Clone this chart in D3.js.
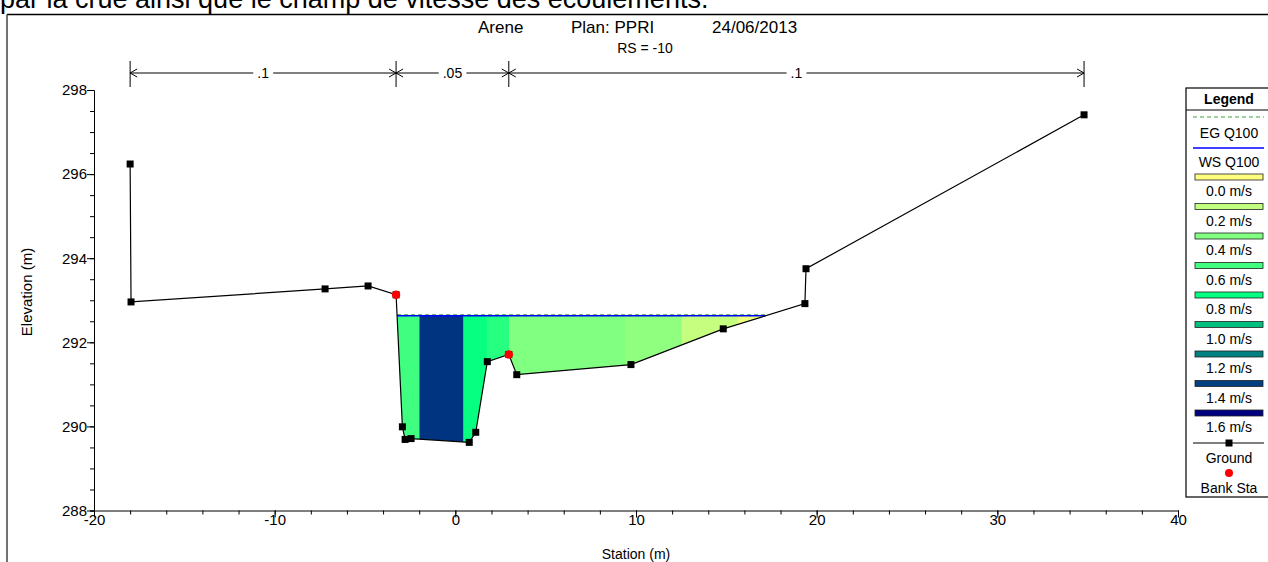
<!DOCTYPE html>
<html>
<head>
<meta charset="utf-8">
<script src="https://cdn.jsdelivr.net/npm/d3@7"></script>
<style>
  body { margin: 0; background: #fff; overflow: hidden; }
  svg { display: block; font-family: "Liberation Sans", Arial, sans-serif; }
</style>
</head>
<body>
<svg id="chart" width="1268" height="562"></svg>
<script>
(function () {
	'use strict';

	// --- Cross-section data ---
	var groundStation = [-18.00, -17.95, -7.21, -4.83, -3.28, -2.93, -2.78, -2.45, 0.77, 1.13, 1.77, 2.96, 3.40, 9.72, 14.83, 19.35, 19.41, 34.80];
	var groundElev    = [296.24, 292.96, 293.27, 293.34, 293.13, 289.99, 289.69, 289.71, 289.62, 289.86, 291.54, 291.71, 291.23, 291.47, 292.32, 292.92, 293.75, 297.41];
	var bankStation   = [-3.28, 2.96];
	var bankElev      = [293.13, 291.71];
	var wsElev        = 292.63;
	var egElev        = 292.655;

	// velocity distribution: interior strip breaks + one velocity per strip
	var velBreaks = [-1.99, 0.44, 1.74, 2.97, 9.39, 12.53, 15.64];
	var velValues = [0.60, 1.44, 0.78, 0.68, 0.40, 0.35, 0.18, 0.05];

	// Manning's n zones
	var nStations = [-18.00, -3.28, 2.96, 34.80];
	var nValues   = ['.1', '.05', '.1'];

	var xMajor = [-20, -10, 0, 10, 20, 30, 40];
	var yMajor = [288, 290, 292, 294, 296, 298];

	var legendVel    = [0.0, 0.2, 0.4, 0.6, 0.8, 1.0, 1.2, 1.4, 1.6];
	var legendColors = ['#ffff80', '#c0ff80', '#80ff80', '#40ff80', '#00ff80', '#00c080', '#008080', '#004080', '#000080'];

	var titleParts = ['Arene', 'Plan: PPRI', '24/06/2013'];

	// --- Layout ---
	var PLOT = { left: 94, right: 1178, top: 90, bottom: 510.5 };
	var FONT = 'Liberation Sans, Arial, sans-serif';

	var svg = d3.select('#chart');
	var x = d3.scaleLinear().domain([-20, 40]).range([PLOT.left, PLOT.right]);
	var y = d3.scaleLinear().domain([288, 298]).range([PLOT.bottom, PLOT.top]);
	var velColor = d3.scaleLinear().domain(legendVel).range(legendColors).interpolate(d3.interpolateRgb);

	// page text above the figure (clipped by the window)
	svg.append('text')
		.attr('x', 0).attr('y', 8)
		.style('font-size', '27px')
		.text('par la crue ainsi que le champ de vitesse des écoulements.');

	// frame of the pasted figure
	svg.append('line').attr('x1', 7).attr('x2', 1268).attr('y1', 14.5).attr('y2', 14.5)
		.attr('stroke', '#000').attr('stroke-width', 1.5);
	svg.append('line').attr('x1', 7).attr('x2', 7).attr('y1', 14.5).attr('y2', 562)
		.attr('stroke', '#444').attr('stroke-width', 1.5);

	// title
	var titleX = [478, 571, 712];
	titleParts.forEach(function (t, i) {
		svg.append('text').attr('x', titleX[i]).attr('y', 33)
			.style('font-size', '17px').text(t);
	});
	svg.append('text').attr('x', 645).attr('y', 53)
		.attr('text-anchor', 'middle').style('font-size', '14px').text('RS = -10');

	// --- water area split in velocity strips ---
	function crossing(fromLeft) {
		var n = groundStation.length;
		for (var k = 0; k < n - 1; k++) {
			var i = fromLeft ? k : n - 2 - k;
			var e0 = groundElev[i], e1 = groundElev[i + 1];
			if ((e0 - wsElev) * (e1 - wsElev) <= 0 && e0 !== e1) {
				var f = (wsElev - e0) / (e1 - e0);
				if (fromLeft && e1 < e0) return groundStation[i] + f * (groundStation[i + 1] - groundStation[i]);
				if (!fromLeft && e1 > e0) return groundStation[i] + f * (groundStation[i + 1] - groundStation[i]);
			}
		}
		return null;
	}
	var wsLeft  = crossing(true);
	var wsRight = crossing(false);

	var waterPts = [[wsLeft, wsElev]];
	groundStation.forEach(function (s, i) {
		if (s > wsLeft && s < wsRight) waterPts.push([s, groundElev[i]]);
	});
	waterPts.push([wsRight, wsElev]);

	var edges = [wsLeft].concat(velBreaks, [wsRight]);
	var defs = svg.append('defs');
	var waterLayer = svg.append('g');
	var lineGen = d3.line().x(function (d) { return x(d[0]); }).y(function (d) { return y(d[1]); });

	velValues.forEach(function (v, i) {
		var id = 'strip' + i;
		defs.append('clipPath').attr('id', id).append('rect')
			.attr('x', x(edges[i]) - (i === 0 ? 2 : 0))
			.attr('y', y(wsElev) - 1)
			.attr('width', x(edges[i + 1]) - x(edges[i]) + (i === 0 || i === velValues.length - 1 ? 2 : 0.5))
			.attr('height', PLOT.bottom - y(wsElev) + 2);
		waterLayer.append('path')
			.attr('d', lineGen(waterPts) + 'Z')
			.attr('fill', velColor(v))
			.attr('clip-path', 'url(#' + id + ')');
	});

	// energy grade and water surface
	svg.append('line')
		.attr('x1', x(wsLeft)).attr('x2', x(wsRight))
		.attr('y1', y(egElev)).attr('y2', y(egElev))
		.attr('stroke', '#3fa03f').attr('stroke-width', 1)
		.attr('stroke-dasharray', '4,3');
	svg.append('line')
		.attr('x1', x(wsLeft)).attr('x2', x(wsRight))
		.attr('y1', y(wsElev)).attr('y2', y(wsElev))
		.attr('stroke', '#0000ff').attr('stroke-width', 1.6);

	// ground
	var ground = groundStation.map(function (s, i) { return [s, groundElev[i]]; });
	svg.append('path').attr('d', lineGen(ground))
		.attr('fill', 'none').attr('stroke', '#000').attr('stroke-width', 1.2);
	svg.append('g').selectAll('rect').data(ground).enter().append('rect')
		.attr('x', function (d) { return x(d[0]) - 3.5; })
		.attr('y', function (d) { return y(d[1]) - 3.5; })
		.attr('width', 7).attr('height', 7).attr('fill', '#000');
	svg.append('g').selectAll('circle').data(bankStation).enter().append('circle')
		.attr('cx', function (d) { return x(d); })
		.attr('cy', function (d, i) { return y(bankElev[i]); })
		.attr('r', 4.2).attr('fill', '#ff0000');

	// --- axes ---
	var axisFont = '15px';
	var xMinor = d3.axisBottom(x).tickValues(d3.range(-20, 41, 2)).tickSize(4).tickFormat('');
	var xMaj = d3.axisBottom(x).tickValues(xMajor).tickSize(7).tickFormat(d3.format('d'));
	svg.append('g').attr('transform', 'translate(0,' + PLOT.bottom + ')').call(xMinor);
	var gx2 = svg.append('g').attr('transform', 'translate(0,' + PLOT.bottom + ')').call(xMaj);
	gx2.select('.domain').remove();
	gx2.selectAll('text').style('font-size', axisFont).style('font-family', FONT)
		.attr('fill', '#000').attr('y', 4).attr('dy', '0.71em')
		.text(function (d) { return d < 0 ? '-' + Math.abs(d) : d; });

	var yMinor = d3.axisLeft(y).tickValues(d3.range(288, 298.01, 0.5)).tickSize(4).tickFormat('');
	var yMaj = d3.axisLeft(y).tickValues(yMajor).tickSize(7).tickFormat(d3.format('d'));
	svg.append('g').attr('transform', 'translate(' + PLOT.left + ',0)').call(yMinor);
	var gy2 = svg.append('g').attr('transform', 'translate(' + PLOT.left + ',0)').call(yMaj);
	gy2.select('.domain').remove();
	gy2.selectAll('text').style('font-size', axisFont).style('font-family', FONT)
		.attr('fill', '#000').attr('x', -7);
	svg.selectAll('.tick line, .domain').attr('stroke', '#000');

	svg.append('text').attr('x', (PLOT.left + PLOT.right) / 2).attr('y', 559)
		.attr('text-anchor', 'middle').style('font-size', '14px').text('Station (m)');
	svg.append('text')
		.attr('transform', 'translate(32,292) rotate(-90)')
		.attr('text-anchor', 'middle').style('font-size', '15px').text('Elevation (m)');

	// --- Manning's n bar ---
	var nY = 73;
	var nLayer = svg.append('g').attr('stroke', '#000').attr('stroke-width', 1);
	var nLabels = svg.append('g');
	nStations.forEach(function (s) {
		nLayer.append('line').attr('x1', x(s)).attr('x2', x(s)).attr('y1', 61).attr('y2', 87);
	});
	nValues.forEach(function (label, i) {
		var a = x(nStations[i]), b = x(nStations[i + 1]);
		nLayer.append('line').attr('x1', a).attr('x2', b).attr('y1', nY).attr('y2', nY);
		nLayer.append('path').attr('fill', 'none')
			.attr('d', 'M' + (a + 7) + ',' + (nY - 4) + 'L' + a + ',' + nY + 'L' + (a + 7) + ',' + (nY + 4));
		nLayer.append('path').attr('fill', 'none')
			.attr('d', 'M' + (b - 7) + ',' + (nY - 4) + 'L' + b + ',' + nY + 'L' + (b - 7) + ',' + (nY + 4));
		var bg = nLabels.append('rect').attr('fill', '#fff');
		var t = nLabels.append('text').attr('x', (a + b) / 2).attr('y', nY + 5)
			.attr('text-anchor', 'middle').style('font-size', '14px').text(label);
		var bb = t.node().getBBox();
		bg.attr('x', bb.x - 4).attr('y', nY - 2).attr('width', bb.width + 8).attr('height', 4);
	});

	// --- legend ---
	var L = { left: 1186, right: 1270, top: 88, bottom: 497 };
	var cx = 1229;
	var lg = svg.append('g');
	lg.append('rect').attr('x', L.left).attr('y', L.top)
		.attr('width', L.right - L.left).attr('height', L.bottom - L.top)
		.attr('fill', '#fff').attr('stroke', '#000').attr('stroke-width', 1.2);
	lg.append('text').attr('x', cx).attr('y', 104).attr('text-anchor', 'middle')
		.style('font-size', '14px').style('font-weight', 'bold').text('Legend');
	lg.append('line').attr('x1', L.left).attr('x2', L.right).attr('y1', 110).attr('y2', 110)
		.attr('stroke', '#000');

	function legendText(ty, t) {
		lg.append('text').attr('x', cx).attr('y', ty + 5).attr('text-anchor', 'middle')
			.style('font-size', '14px').text(t);
	}
	lg.append('line').attr('x1', 1193).attr('x2', 1264).attr('y1', 117).attr('y2', 117)
		.attr('stroke', '#3fa03f').attr('stroke-dasharray', '4,3');
	legendText(133, 'EG Q100');
	lg.append('line').attr('x1', 1193).attr('x2', 1264).attr('y1', 148).attr('y2', 148)
		.attr('stroke', '#0000ff').attr('stroke-width', 1.4);
	legendText(162, 'WS Q100');

	legendVel.forEach(function (v, i) {
		var sy = 177 + i * 29.5;
		lg.append('rect').attr('x', 1195).attr('y', sy - 3).attr('width', 68).attr('height', 6)
			.attr('fill', legendColors[i]).attr('stroke', '#222').attr('stroke-width', 0.8);
		legendText(sy + 14, v.toFixed(1) + ' m/s');
	});

	lg.append('line').attr('x1', 1193).attr('x2', 1264).attr('y1', 443).attr('y2', 443).attr('stroke', '#000');
	lg.append('rect').attr('x', cx - 3.5).attr('y', 439.5).attr('width', 7).attr('height', 7).attr('fill', '#000');
	legendText(458, 'Ground');
	lg.append('circle').attr('cx', cx).attr('cy', 473).attr('r', 4).attr('fill', '#ff0000');
	legendText(488, 'Bank Sta');
})();
</script>
</body>
</html>
